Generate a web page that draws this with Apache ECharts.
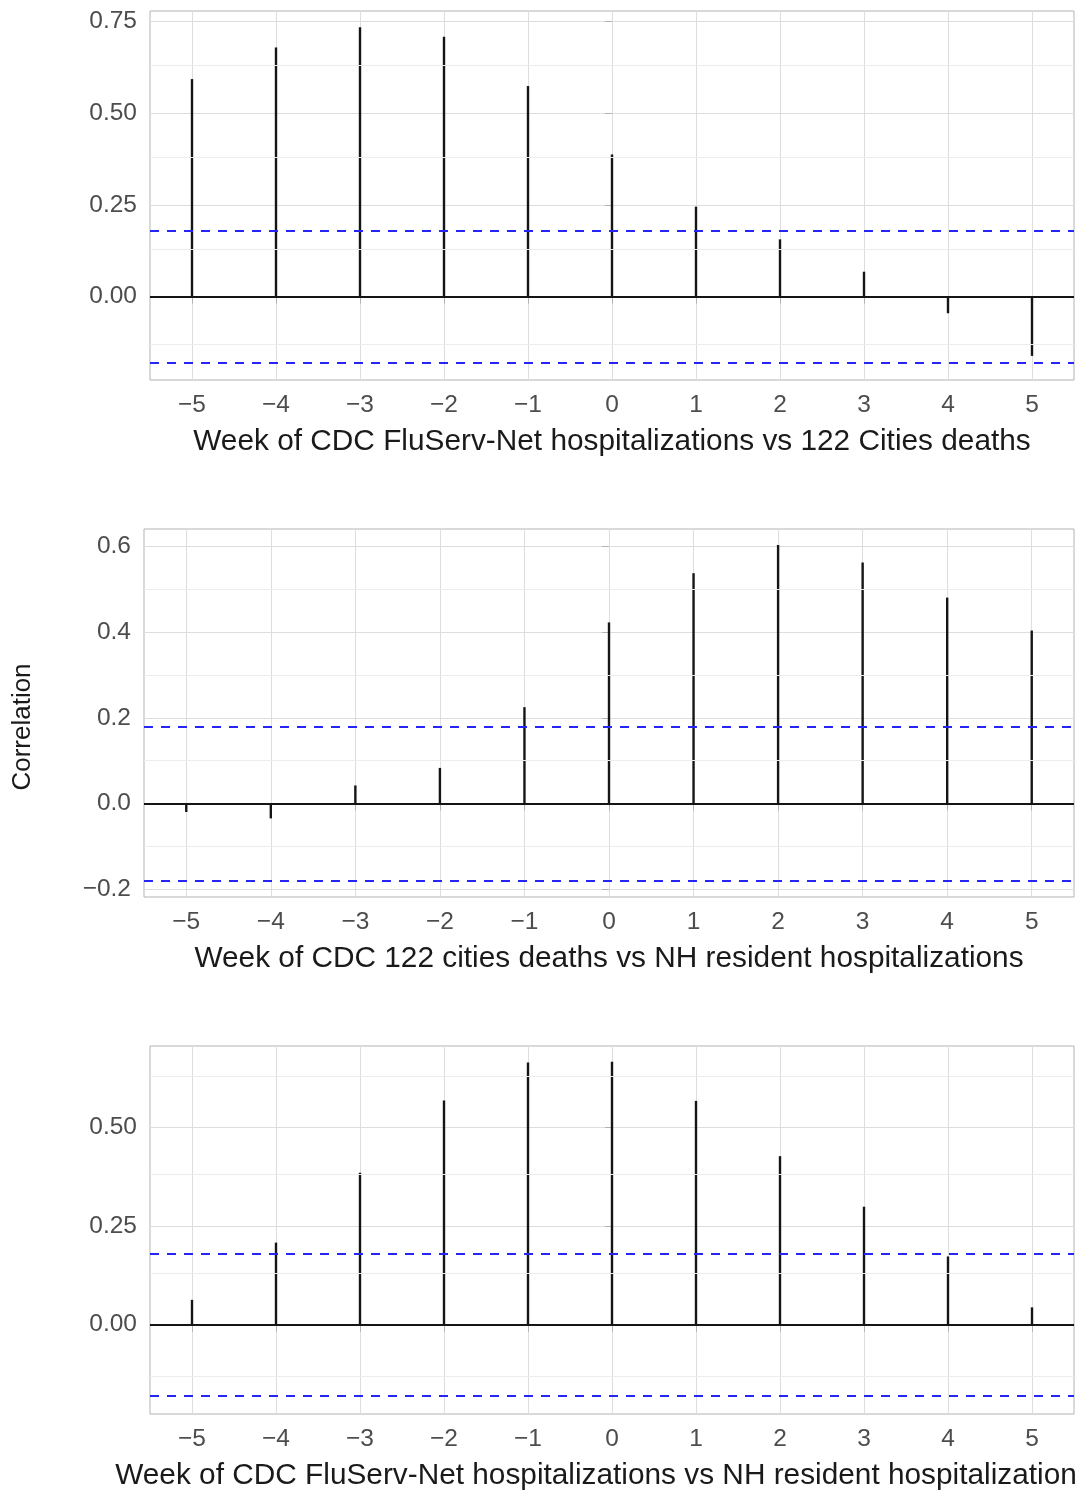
<!DOCTYPE html>
<html>
<head>
<meta charset="utf-8">
<script src="https://cdn.jsdelivr.net/npm/echarts@6/dist/echarts.min.js"></script>
<style>
  html, body { margin: 0; padding: 0; background: #fff; }
  #chart { width: 1086px; height: 1492px; }
</style>
</head>
<body>
<div id="chart"></div>
<script>
// lag weeks and cross-correlations
const lags = [-5, -4, -3, -2, -1, 0, 1, 2, 3, 4, 5];
const fluservVsCities = [0.592, 0.678, 0.733, 0.707, 0.573, 0.387, 0.245, 0.156, 0.068, -0.045, -0.161];
const citiesVsNh = [-0.020, -0.035, 0.042, 0.083, 0.225, 0.423, 0.538, 0.604, 0.563, 0.481, 0.404];
const fluservVsNh = [0.063, 0.208, 0.385, 0.568, 0.664, 0.666, 0.567, 0.427, 0.299, 0.173, 0.044];
const ciBound = 0.179;

const xTicks = [-5, -4, -3, -2, -1, 0, 1, 2, 3, 4, 5];
const yTicks1 = [0, 0.25, 0.5, 0.75];
const yMinor1 = [-0.125, 0.125, 0.375, 0.625];
const yTicks2 = [-0.2, 0, 0.2, 0.4, 0.6];
const yMinor2 = [-0.1, 0.1, 0.3, 0.5];
const yTicks3 = [0, 0.25, 0.5];
const yMinor3 = [-0.125, 0.125, 0.375, 0.625];

const xTitles = [
  'Week of CDC FluServ-Net hospitalizations vs 122 Cities deaths',
  'Week of CDC 122 cities deaths vs NH resident hospitalizations',
  'Week of CDC FluServ-Net hospitalizations vs NH resident hospitalization'
];
const yTitle = 'Correlation';

const FONT = '"Liberation Sans", Arial, sans-serif';
const minus = s => s.replace('-', '\u2212');

// panel layout (pixels) and y ranges
const panels = [
  { values: fluservVsCities, left: 150, top: 11, width: 924, height: 369, min: -0.2266, max: 0.7772, ticks: yTicks1, minor: yMinor1, dec: 2, namePad: 0 },
  { values: citiesVsNh, left: 144, top: 529, width: 930, height: 368, min: -0.2187, max: 0.6413, ticks: yTicks2, minor: yMinor2, dec: 1, namePad: 0 },
  { values: fluservVsNh, left: 150, top: 1046, width: 924, height: 371, min: -0.2261, max: 0.706, ticks: yTicks3, minor: yMinor3, dec: 2, namePad: 32 }
];

const grid = [], xAxis = [], yAxis = [], series = [];

panels.forEach((p, i) => {
  grid.push({
    left: p.left, top: p.top, width: p.width, height: p.height,
    show: true, borderColor: '#b3b3b3', borderWidth: 1, backgroundColor: '#fff'
  });
  xAxis.push({
    type: 'value', gridIndex: i, min: -5.5, max: 5.5,
    axisLine: { show: false },
    axisTick: { show: true, length: 7, customValues: xTicks, lineStyle: { color: '#b3b3b3', width: 1 } },
    axisLabel: {
      customValues: xTicks, margin: 13, color: '#4d4d4d', fontSize: 24.5, fontFamily: FONT,
      formatter: v => minus(String(v))
    },
    splitLine: { show: true, lineStyle: { color: '#dedede', width: 1 } },
    name: xTitles[i], nameLocation: 'middle', nameGap: 47,
    nameTextStyle: { color: '#1a1a1a', fontSize: 29.8, fontFamily: FONT, padding: [0, p.namePad, 0, 0] }
  });
  yAxis.push({
    type: 'value', gridIndex: i, min: p.min, max: p.max,
    axisLine: { show: false },
    axisTick: { show: true, length: 7, customValues: p.ticks, lineStyle: { color: '#b3b3b3', width: 1 } },
    axisLabel: {
      customValues: p.ticks, margin: 13, color: '#4d4d4d', fontSize: 24.5, fontFamily: FONT,
      formatter: v => minus(v.toFixed(p.dec))
    },
    splitLine: { show: true, lineStyle: { color: '#dedede', width: 1 } }
  });
  // minor grid lines
  series.push({
    type: 'line', xAxisIndex: i, yAxisIndex: i, data: [], silent: true, z: 1,
    markLine: {
      silent: true, symbol: 'none', label: { show: false }, animation: false,
      lineStyle: { color: '#ececec', width: 1, type: 'solid' },
      data: p.minor.map(v => ({ yAxis: v }))
    }
  });
  // correlation stems
  series.push({
    type: 'bar', xAxisIndex: i, yAxisIndex: i, barWidth: 2.4, z: 3,
    itemStyle: { color: '#151515' },
    data: lags.map((l, k) => [l, p.values[k]])
  });
  // zero line and significance bounds
  series.push({
    type: 'line', xAxisIndex: i, yAxisIndex: i, data: [], silent: true, z: 4,
    markLine: {
      silent: true, symbol: 'none', label: { show: false }, animation: false,
      data: [
        { yAxis: 0, lineStyle: { color: '#151515', width: 2, type: 'solid' } },
        { yAxis: ciBound, lineStyle: { color: '#2525f5', width: 2, type: [9, 8] } },
        { yAxis: -ciBound, lineStyle: { color: '#2525f5', width: 2, type: [9, 8] } }
      ]
    }
  });
});

const chart = echarts.init(document.getElementById('chart'), null, { renderer: 'canvas' });
chart.setOption({
  animation: false,
  backgroundColor: '#fff',
  grid, xAxis, yAxis, series,
  graphic: [{
    type: 'text', x: 23, y: 727, rotation: Math.PI / 2,
    style: { text: yTitle, fill: '#1a1a1a', font: '26px ' + FONT, textAlign: 'center', textVerticalAlign: 'middle' }
  }]
});
</script>
</body>
</html>
